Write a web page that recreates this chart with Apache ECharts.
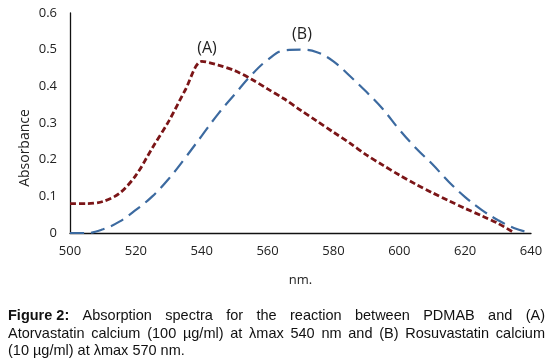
<!DOCTYPE html>
<html>
<head>
<meta charset="utf-8">
<script src="https://cdn.jsdelivr.net/npm/echarts@6/dist/echarts.min.js"></script>
<style>
  html, body { margin: 0; padding: 0; background: #fff; }
  #chart { width: 551px; height: 364px; }
</style>
</head>
<body>
<div id="chart"></div>
<script>
// wavelengths (nm), 5 nm steps
const wavelengths = [500, 505, 510, 515, 520, 525, 530, 535, 540, 545, 550, 555, 560, 565, 570,
  575, 580, 585, 590, 595, 600, 605, 610, 615, 620, 625, 630, 635, 640];
// (A) Atorvastatin calcium
const absA = [0.08, 0.08, 0.086, 0.108, 0.157, 0.232, 0.305, 0.39, 0.468, 0.458, 0.443, 0.42, 0.393, 0.366, 0.335,
  0.305, 0.275, 0.245, 0.213, 0.185, 0.158, 0.133, 0.11, 0.088, 0.067, 0.047, 0.026, 0.0, null];
// (B) Rosuvastatin calcium
const absB = [0.0, 0.0, 0.01, 0.031, 0.063, 0.10, 0.148, 0.205, 0.265, 0.325, 0.378, 0.43, 0.472, 0.498, 0.50,
  0.493, 0.468, 0.428, 0.385, 0.338, 0.282, 0.232, 0.188, 0.14, 0.098, 0.063, 0.035, 0.013, 0.0];
const yTicks = [0, 0.1, 0.2, 0.3, 0.4, 0.5, 0.6];
const xTicks = [500, 520, 540, 560, 580, 600, 620, 640];
const captionLines = [
  ['Figure 2:', 'Absorption', 'spectra', 'for', 'the', 'reaction', 'between', 'PDMAB', 'and', '(A)'],
  ['Atorvastatin', 'calcium', '(100', 'µg/ml)', 'at', 'λmax', '540', 'nm', 'and', '(B)', 'Rosuvastatin', 'calcium'],
  ['(10 µg/ml) at λmax 570 nm.']
];

const pairs = (ys) => wavelengths.map((w, i) => [w, ys[i]]).filter((p) => p[1] !== null);

const chart = echarts.init(document.getElementById('chart'), null, { renderer: 'canvas' });

// justified caption, word by word
const capFont = '14.5px "Liberation Sans", Arial, sans-serif';
const capBold = 'bold 14.5px "Liberation Sans", Arial, sans-serif';
const ctx = document.createElement('canvas').getContext('2d');
const capLeft = 8, capRight = 545;
const capY = [316, 334, 351];
const captionGraphics = [];
captionLines.forEach((words, li) => {
  const fonts = words.map((w) => (li === 0 && w === 'Figure 2:' ? capBold : capFont));
  const widths = words.map((w, i) => { ctx.font = fonts[i]; return ctx.measureText(w).width; });
  const total = widths.reduce((a, b) => a + b, 0);
  const last = li === captionLines.length - 1;
  const gap = last || words.length < 2 ? 0 : (capRight - capLeft - total) / (words.length - 1);
  let x = capLeft;
  words.forEach((w, i) => {
    captionGraphics.push({
      type: 'text', left: x, top: capY[li] - 8,
      style: { text: w, font: fonts[i], fill: '#111' }
    });
    x += widths[i] + gap;
  });
});

chart.setOption({
  animation: false,
  grid: { left: 70, right: 20, top: 13, bottom: 131 },
  xAxis: {
    type: 'value', min: 500, max: 640, interval: 20,
    name: 'nm.', nameLocation: 'middle', nameGap: 41,
    nameTextStyle: { fontFamily: 'Open Sans', fontSize: 13, color: '#222' },
    axisLine: { lineStyle: { color: '#111', width: 1.3 } },
    axisTick: { show: false },
    splitLine: { show: false },
    axisLabel: { fontFamily: 'Open Sans', fontSize: 13, color: '#222', margin: 12 }
  },
  yAxis: {
    type: 'value', min: 0, max: 0.6, interval: 0.1,
    axisLine: { show: true, lineStyle: { color: '#111', width: 1.3 } },
    axisTick: { show: false },
    splitLine: { show: false },
    axisLabel: { fontFamily: 'Open Sans', fontSize: 13, color: '#222', margin: 13,
      formatter: (v) => String(Math.round(v * 10) / 10) }
  },
  series: [
    {
      name: '(A)', type: 'line', data: pairs(absA), smooth: 0.3, symbol: 'none',
      lineStyle: { color: '#7b1517', width: 2.8, type: [6, 3] }
    },
    {
      name: '(B)', type: 'line', data: pairs(absB), smooth: 0.4, symbol: 'none',
      lineStyle: { color: '#3c6aa0', width: 2.2, type: [14, 7] }
    }
  ],
  graphic: [
    { type: 'text', x: 25, y: 148, rotation: Math.PI / 2,
      style: { text: 'Absorbance', font: '14px "Open Sans"', fill: '#222', align: 'center', verticalAlign: 'middle' } },
    { type: 'text', x: 207, y: 48,
      style: { text: '(A)', font: '16px "Open Sans"', fill: '#222', align: 'center', verticalAlign: 'middle' } },
    { type: 'text', x: 302, y: 34,
      style: { text: '(B)', font: '16px "Open Sans"', fill: '#222', align: 'center', verticalAlign: 'middle' } }
  ].concat(captionGraphics)
});
</script>
</body>
</html>
